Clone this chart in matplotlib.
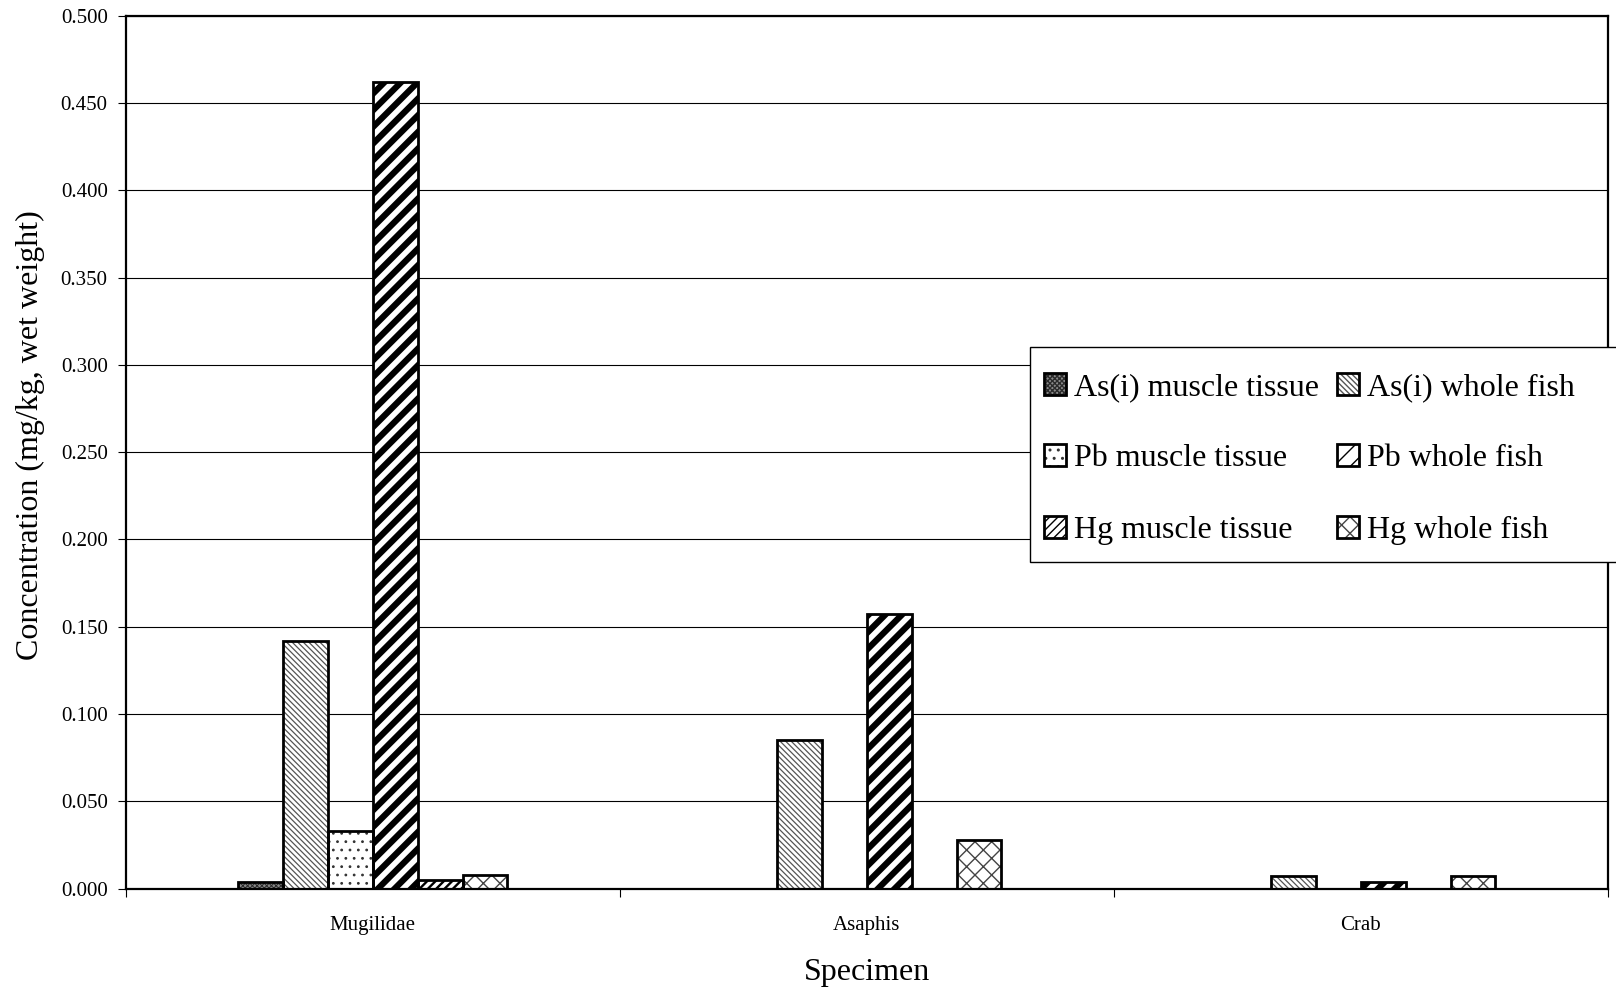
import numpy as np
import matplotlib
matplotlib.use("Agg")
import matplotlib.pyplot as plt
from matplotlib.patches import Rectangle
from matplotlib.ticker import MultipleLocator, FormatStrFormatter

plt.rcParams['font.family'] = ['Liberation Serif', 'DejaVu Serif']

# -- data (mg/kg, wet weight)
specimens = ["Mugilidae", "Asaphis", "Crab"]
series = ["As(i) muscle tissue", "As(i) whole fish",
          "Pb muscle tissue", "Pb whole fish",
          "Hg muscle tissue", "Hg whole fish"]
as_muscle = [0.004, 0.0, 0.0]
as_whole = [0.142, 0.085, 0.007]
pb_muscle = [0.033, 0.0, 0.0]
pb_whole = [0.462, 0.157, 0.004]
hg_muscle = [0.005, 0.0, 0.0]
hg_whole = [0.008, 0.028, 0.007]
values = [as_muscle, as_whole, pb_muscle, pb_whole, hg_muscle, hg_whole]

# -- fill styles: (face, hatch, hatch colour, hatch linewidth)
styles = [
    ("#8a8a8a", "xxxxxxx", "#2a2a2a", 0.7),
    ("white", "\\\\\\\\\\\\", "#555555", 0.9),
    ("white", "..", "#333333", 0.8),
    ("white", "//", "black", 4.5),
    ("white", "////", "black", 1.7),
    ("white", "xx", "#444444", 1.0),
]

W, H = 1616, 988
fig = plt.figure(figsize=(W / 100, H / 100), dpi=100)
ax = fig.add_axes([0.0778, 0.1007, 0.9171, 0.8834])

x = np.arange(len(specimens))
w = 1.0 / 11
handles = []
for i, (vals, (fc, h, hc, hlw)) in enumerate(zip(values, styles)):
    pos = x + (i - 2.5) * w
    with plt.rc_context({'hatch.linewidth': hlw}):
        b1 = ax.bar(pos, vals, w, color=fc, edgecolor=hc, hatch=h,
                    linewidth=0, zorder=2)
    for p in b1:
        if hasattr(p, "set_hatch_linewidth"):
            p.set_hatch_linewidth(hlw)
    b2 = ax.bar(pos, vals, w, fill=False, edgecolor="black",
                linewidth=2.0, zorder=3)
    handles.append((b1[0], b2[0]))

ax.set_xlim(-0.5, 2.5)
ax.set_ylim(0, 0.5)
ax.yaxis.set_major_locator(MultipleLocator(0.05))
ax.yaxis.set_major_formatter(FormatStrFormatter('%.3f'))
ax.grid(axis='y', color='black', linewidth=0.8)
ax.set_axisbelow(True)

ax.set_xticks(x)
ax.set_xticklabels(specimens)
ax.set_xticks([-0.5, 0.5, 1.5, 2.5], minor=True)
ax.tick_params(axis='x', which='major', length=0, pad=19.5, labelsize=15)
ax.tick_params(axis='x', which='minor', length=6, width=0.8, direction='out')
ax.tick_params(axis='y', length=6, width=0.8, pad=7, labelsize=15)

for s in ax.spines.values():
    s.set_linewidth(1.6)
    s.set_zorder(4)

ax.set_ylabel("Concentration (mg/kg, wet weight)", fontsize=23)
ax.yaxis.set_label_coords(-0.0646, 0.5196)
ax.yaxis.label.set_va('center')
ax.set_xlabel("Specimen", fontsize=23)
ax.xaxis.set_label_coords(0.5, -0.096)
ax.xaxis.label.set_va('center')

# legend box runs off the right edge of the figure
box = Rectangle((1029.5 / W, 1 - 561.7 / H), 700 / W, 214.4 / H,
                transform=fig.transFigure, facecolor='white',
                edgecolor='black', linewidth=1.0, zorder=5, clip_on=False)
ax.add_artist(box)

# legend reads row by row over two columns
order = [0, 2, 4, 1, 3, 5]
leg = ax.legend([handles[k] for k in order], [series[k] for k in order],
                ncol=2, loc='upper left',
                bbox_to_anchor=(1023.5 / W, 1 - 351.8 / H),
                bbox_transform=fig.transFigure, borderaxespad=0,
                fontsize=23, frameon=False,
                handlelength=0.68, handleheight=0.68, handletextpad=0.24,
                columnspacing=0.58, labelspacing=1.33, borderpad=0.65)
leg.set_zorder(6)

fig.savefig("out.png", dpi=100)
